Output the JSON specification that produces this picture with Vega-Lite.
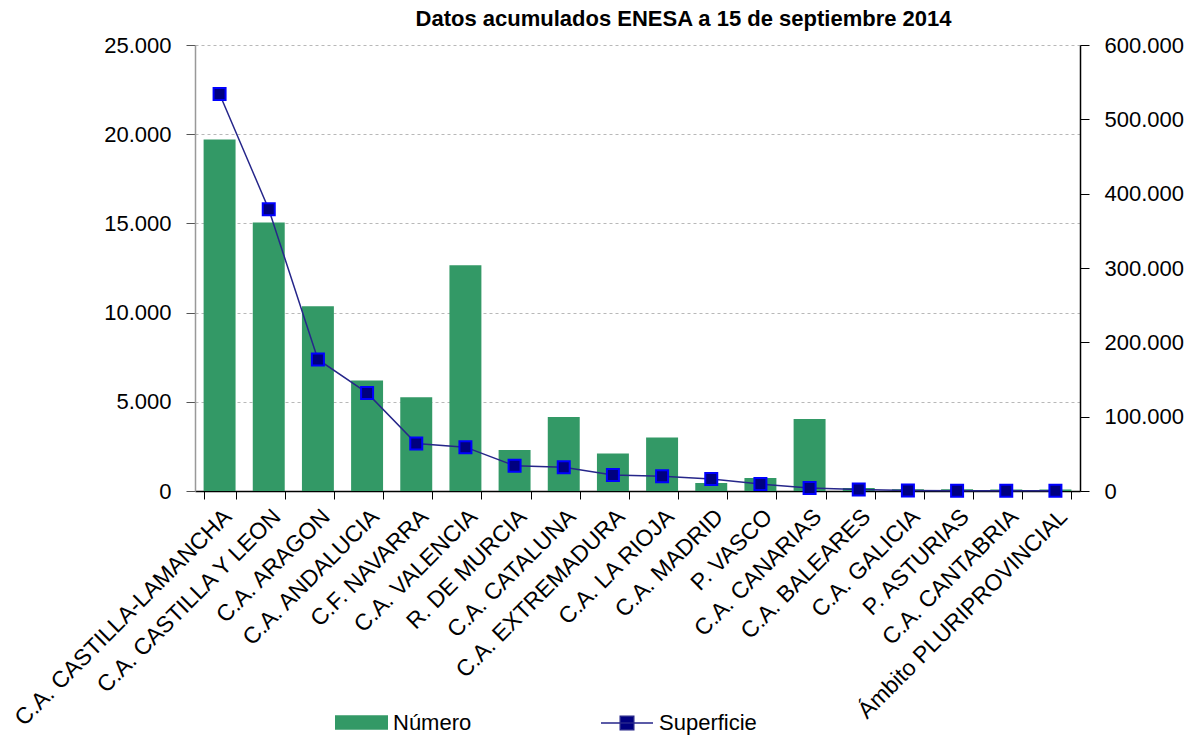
{
  "$schema": "https://vega.github.io/schema/vega-lite/v6.json",
  "width": 885,
  "height": 446,
  "autosize": {"type": "none"},
  "padding": {"left": 195, "top": 45, "right": 116, "bottom": 247},
  "background": "white",
  "title": {
    "text": "Datos acumulados ENESA a 15 de septiembre 2014",
    "font": "Liberation Sans",
    "fontSize": 22,
    "fontWeight": "bold",
    "color": "black",
    "anchor": "middle",
    "frame": "group",
    "dx": 46,
    "offset": 3
  },
  "data": {
    "values": [
      {"region": "C.A. CASTILLA-LAMANCHA", "numero": 19700, "superficie": 534000},
      {"region": "C.A. CASTILLA Y LEON", "numero": 15050, "superficie": 379000},
      {"region": "C.A. ARAGON", "numero": 10350, "superficie": 177000},
      {"region": "C.A. ANDALUCIA", "numero": 6200, "superficie": 132000},
      {"region": "C.F. NAVARRA", "numero": 5250, "superficie": 64000},
      {"region": "C.A. VALENCIA", "numero": 12650, "superficie": 59000},
      {"region": "R. DE MURCIA", "numero": 2300, "superficie": 34000},
      {"region": "C.A. CATALUNA", "numero": 4150, "superficie": 32000},
      {"region": "C.A. EXTREMADURA", "numero": 2100, "superficie": 21500},
      {"region": "C.A. LA RIOJA", "numero": 3000, "superficie": 20000},
      {"region": "C.A. MADRID", "numero": 450, "superficie": 16000},
      {"region": "P. VASCO", "numero": 730, "superficie": 9400},
      {"region": "C.A. CANARIAS", "numero": 4030, "superficie": 4000},
      {"region": "C.A. BALEARES", "numero": 170, "superficie": 2000},
      {"region": "C.A. GALICIA", "numero": 100, "superficie": 700},
      {"region": "P. ASTURIAS", "numero": 100, "superficie": 400},
      {"region": "C.A. CANTABRIA", "numero": 90, "superficie": 300},
      {"region": "Ámbito PLURIPROVINCIAL", "numero": 80, "superficie": 200}
    ]
  },
  "encoding": {
    "x": {
      "field": "region",
      "type": "nominal",
      "sort": null,
      "scale": {"paddingInner": 0.35, "paddingOuter": 0.175},
      "axis": {
        "title": null,
        "labelAngle": -45,
        "labelAlign": "right",
        "labelBaseline": "top",
        "labelFontSize": 23,
        "labelFont": "Liberation Sans",
        "labelColor": "black",
        "labelPadding": 6,
        "labelLimit": 400,
        "tickBand": "extent",
        "tickSize": 8,
        "tickColor": "black",
        "domainColor": "black",
        "domainWidth": 1.5,
        "grid": false
      }
    }
  },
  "layer": [
    {
      "mark": {"type": "bar", "color": "#339966"},
      "encoding": {
        "y": {
          "field": "numero",
          "type": "quantitative",
          "scale": {"domain": [0, 25000]},
          "axis": {
            "title": null,
            "orient": "left",
            "values": [0, 5000, 10000, 15000, 20000, 25000],
            "format": ",.0f",
            "labelFontSize": 22,
            "labelFont": "Liberation Sans",
            "labelColor": "black",
            "labelPadding": 15,
            "tickSize": 9,
            "tickColor": "#555555",
            "domainColor": "#999999",
            "domainWidth": 1.5,
            "grid": true,
            "gridColor": "#b8b8b8",
            "gridDash": [3, 3],
            "gridWidth": 1
          }
        },
        "color": {
          "datum": "Número",
          "type": "nominal",
          "scale": {"range": ["#339966"]},
          "legend": {
            "orient": "none",
            "legendX": 140,
            "legendY": 651,
            "title": null,
            "symbolType": "M-1,-0.27H1V0.27H-1Z",
            "symbolSize": 2809,
            "symbolStrokeWidth": 0,
            "labelFontSize": 22,
            "labelFont": "Liberation Sans",
            "labelColor": "black",
            "labelOffset": 5,
            "padding": 0
          }
        }
      }
    },
    {
      "encoding": {
        "y": {
          "field": "superficie",
          "type": "quantitative",
          "scale": {"domain": [0, 600000]},
          "axis": {
            "title": null,
            "orient": "right",
            "values": [0, 100000, 200000, 300000, 400000, 500000, 600000],
            "format": ",.0f",
            "labelFontSize": 22,
            "labelFont": "Liberation Sans",
            "labelColor": "black",
            "labelPadding": 15,
            "tickSize": 9,
            "tickColor": "black",
            "domainColor": "black",
            "domainWidth": 1.5,
            "grid": false
          }
        }
      },
      "layer": [
        {
          "mark": {"type": "line", "strokeWidth": 1.5},
          "encoding": {
            "stroke": {
              "datum": "Superficie",
              "type": "nominal",
              "scale": {"range": ["#26268a"]},
              "legend": {
                "orient": "none",
                "legendX": 405,
                "legendY": 651,
                "title": null,
                "symbolType": "M-1,0H1M-0.26,-0.26H0.26V0.26H-0.26Z",
                "symbolSize": 2704,
                "symbolStrokeWidth": 1.5,
                "symbolFillColor": "#000080",
                "labelFontSize": 22,
                "labelFont": "Liberation Sans",
                "labelColor": "black",
                "labelOffset": 5,
                "padding": 0
              }
            }
          }
        },
        {
          "mark": {"type": "point", "shape": "square", "filled": true, "size": 144, "fill": "#000080", "stroke": "#0000FF", "strokeWidth": 2, "opacity": 1},
          "encoding": {}
        }
      ]
    }
  ],
  "resolve": {"scale": {"y": "independent"}},
  "config": {
    "view": {"stroke": null},
    "locale": {"number": {"decimal": ",", "thousands": ".", "grouping": [3], "currency": ["", " €"]}}
  }
}
